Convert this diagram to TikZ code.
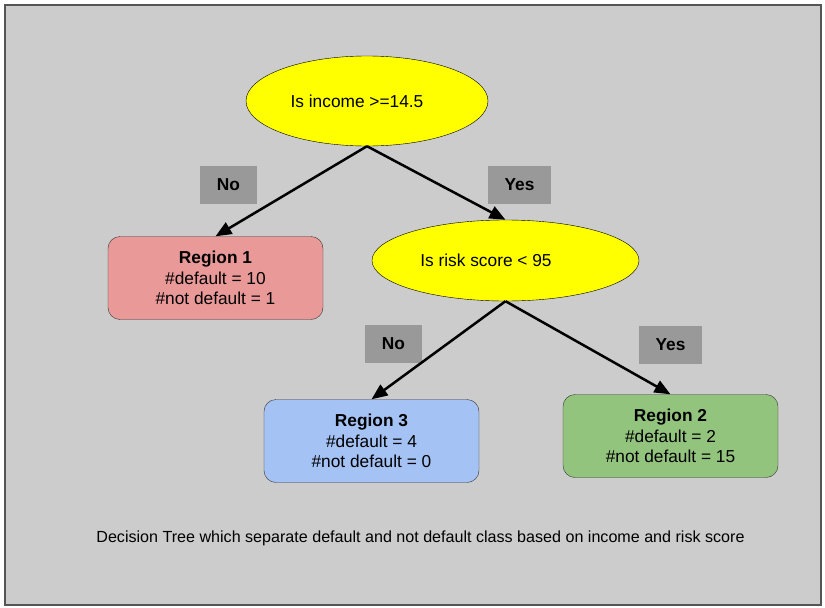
\documentclass[tikz,border=0pt]{standalone}
\usepackage{fontspec}
\setmainfont{Liberation Sans}
\usetikzlibrary{shapes.geometric,arrows.meta}

\definecolor{panelgray}{HTML}{CCCCCC}
\definecolor{framegray}{HTML}{555555}
\definecolor{taggray}{HTML}{999999}
\definecolor{regionred}{HTML}{EA9999}
\definecolor{regionblue}{HTML}{A4C2F4}
\definecolor{regiongreen}{HTML}{93C47D}
\definecolor{askyellow}{HTML}{FFFF00}

\tikzset{
  question/.style={ellipse, draw=black, fill=askyellow, inner sep=0pt,
    font=\fontsize{17.3}{20}\selectfont},
  region/.style={draw=black!80, rounded corners=12pt, minimum width=215pt,
    minimum height=83pt, inner sep=0pt, align=center,
    font=\fontsize{17.3}{20.5}\selectfont},
  answer/.style={fill=taggray, minimum width=57pt, minimum height=38pt,
    inner sep=0pt, font=\bfseries\fontsize{17.3}{20}\selectfont},
  branch/.style={line width=2.5pt, -{Triangle[length=16pt,width=13pt]}},
}

\begin{document}
\begin{tikzpicture}[x=1pt,y=-1pt]
    \useasboundingbox (0,0) rectangle (825,608);
    \draw [framegray, fill=panelgray, line width=1.5pt] (5,5) rectangle (821,605);

    % questions
    \node [question, minimum width=242pt, minimum height=90pt] (q1) at (367,101)
      {Is income >=14.5\hspace*{20pt}};
    \node [question, minimum width=267pt, minimum height=81pt] (q2) at (505.5,260.5)
      {Is risk score < 95\hspace*{39pt}};

    % leaves
    \node [region, fill=regionred] (r1) at (215.5,278)
      {\textbf{Region 1}\\\#default = 10\\\#not default = 1};
    \node [region, fill=regionblue] (r3) at (371.5,441)
      {\textbf{Region 3}\\\#default = 4\\\#not default = 0};
    \node [region, fill=regiongreen] (r2) at (670.5,436)
      {\textbf{Region 2}\\\#default = 2\\\#not default = 15};

    % branch tags
    \node [answer] (no1) at (228.5,185) {No};
    \node [answer, minimum width=63pt] (yes1) at (519.5,185) {Yes};
    \node [answer] (no2) at (393.5,344) {No};
    \node [answer, minimum width=63pt] (yes2) at (670.5,344.5) {Yes};

    \draw [branch] (q1.south) -- (r1.north);
    \draw [branch] (q1.south) -- (q2.north);
    \draw [branch] (q2.south) -- (r3.north);
    \draw [branch] (q2.south) -- (r2.north);

    \node [font=\fontsize{16.1}{19}\selectfont] (caption) at (420.5,538)
      {Decision Tree which separate default and not default class based on income and risk score};
\end{tikzpicture}
\end{document}
